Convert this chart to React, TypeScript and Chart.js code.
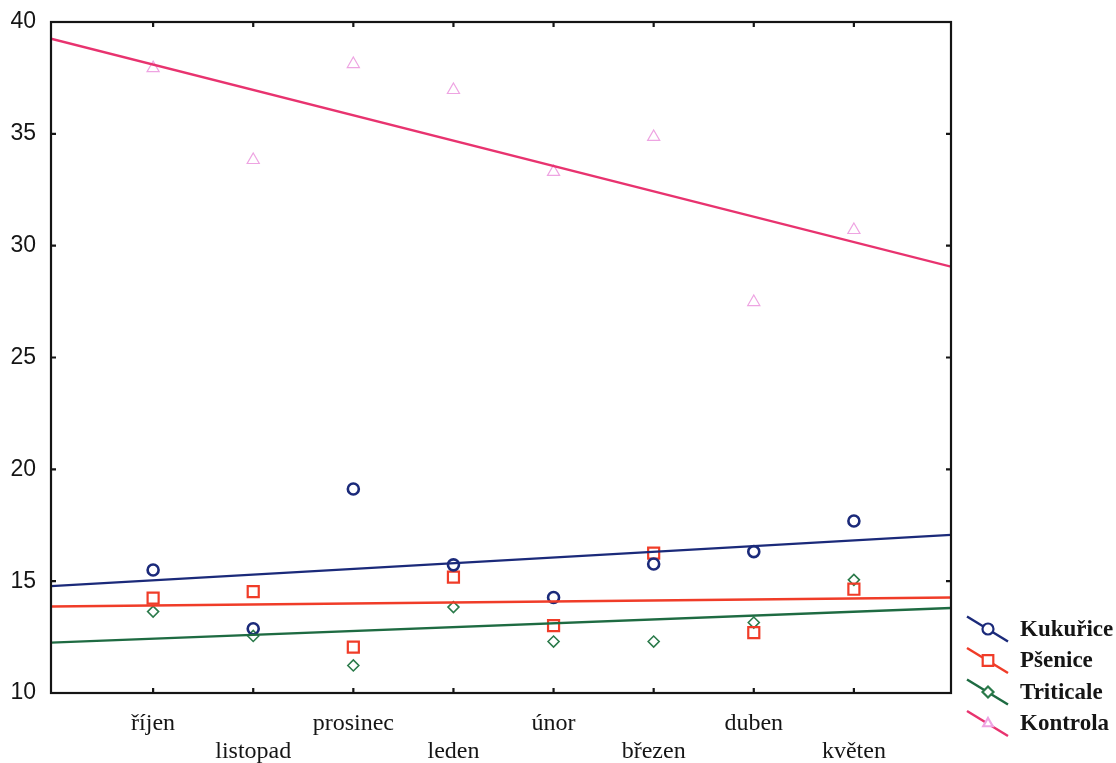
import React, { useEffect, useRef } from 'react';
import { Chart, registerables } from 'chart.js';

Chart.register(...registerables);

const months = ['říjen', 'listopad', 'prosinec', 'leden', 'únor', 'březen', 'duben', 'květen'];
const kukurice = [15.5, 12.87, 19.12, 15.73, 14.27, 15.77, 16.32, 17.69];
const psenice = [14.24, 14.53, 12.05, 15.18, 13.01, 16.25, 12.7, 14.64];
const triticale = [13.64, 12.55, 11.23, 13.84, 12.3, 12.3, 13.15, 15.06];
const kontrola = [37.94, 33.83, 38.12, 36.96, 33.3, 34.86, 27.48, 30.7];

// linear trend end values at the left and right edge of the plot
const kukuriceTrend = [14.78, 17.07];
const pseniceTrend = [13.87, 14.27];
const triticaleTrend = [12.25, 13.8];
const kontrolaTrend = [39.25, 29.06];

const xMin = -0.02;
const xMax = 8.97;
const yMin = 10;
const yMax = 40;
const yStep = 5;

const seriesNames = ['Kukuřice', 'Pšenice', 'Triticale', 'Kontrola'];
const lineColors = ['#1b2a7a', '#f03c28', '#1e6b42', '#e8336f'];
const markerColors = ['#1b2a7a', '#f03c28', '#2a7a4a', '#eea4e2'];
const markerStyles = ['circle', 'rect', 'rectRot', 'triangle'];
const markerRadius = [5.5, 7.8, 5.5, 7];
const markerWidth = [2.6, 2.2, 1.6, 1.2];

const toPoints = (vals: number[]) => vals.map((v, i) => ({ x: i + 1, y: v }));
const toTrend = (t: number[]) => [{ x: xMin, y: t[0] }, { x: xMax, y: t[1] }];

function drawMarker(ctx: CanvasRenderingContext2D, style: string, x: number, y: number, r: number) {
  ctx.beginPath();
  if (style === 'circle') {
    ctx.arc(x, y, r, 0, Math.PI * 2);
  } else if (style === 'rect') {
    const s = Math.SQRT1_2 * r;
    ctx.rect(x - s, y - s, 2 * s, 2 * s);
  } else if (style === 'rectRot') {
    ctx.moveTo(x - r, y);
    ctx.lineTo(x, y - r);
    ctx.lineTo(x + r, y);
    ctx.lineTo(x, y + r);
    ctx.closePath();
  } else {
    ctx.moveTo(x, y - r);
    ctx.lineTo(x + r * Math.sin(Math.PI / 3), y + r * 0.5);
    ctx.lineTo(x - r * Math.sin(Math.PI / 3), y + r * 0.5);
    ctx.closePath();
  }
  ctx.fillStyle = '#ffffff';
  ctx.fill();
  ctx.stroke();
}

const framePlugin = {
  id: 'frameAndLegend',
  afterDraw(chart: any) {
    const { ctx, chartArea: a, scales } = chart;
    ctx.save();
    ctx.strokeStyle = '#151515';
    ctx.lineWidth = 2.2;
    ctx.strokeRect(a.left, a.top, a.right - a.left, a.bottom - a.top);
    const tl = 5;
    ctx.beginPath();
    scales.x.ticks.forEach((t: any) => {
      const px = scales.x.getPixelForValue(t.value);
      ctx.moveTo(px, a.bottom);
      ctx.lineTo(px, a.bottom - tl);
      ctx.moveTo(px, a.top);
      ctx.lineTo(px, a.top + tl);
    });
    scales.y.ticks.forEach((t: any) => {
      const py = scales.y.getPixelForValue(t.value);
      ctx.moveTo(a.left, py);
      ctx.lineTo(a.left + tl, py);
      ctx.moveTo(a.right, py);
      ctx.lineTo(a.right - tl, py);
    });
    ctx.stroke();

    // legend
    const lx = a.right + 37;
    const ly0 = 629;
    const step = 31.5;
    seriesNames.forEach((name, i) => {
      const cy = ly0 + i * step;
      ctx.strokeStyle = lineColors[i];
      ctx.lineWidth = 2.5;
      ctx.beginPath();
      ctx.moveTo(lx - 21, cy - 12.5);
      ctx.lineTo(lx + 20, cy + 12.5);
      ctx.stroke();
      ctx.strokeStyle = markerColors[i];
      ctx.lineWidth = 2.2;
      drawMarker(ctx, markerStyles[i], lx, cy, i === 1 ? 7.5 : 5.5);
      ctx.fillStyle = '#151515';
      ctx.font = 'bold 23px "Liberation Serif", "Times New Roman", serif';
      ctx.textAlign = 'left';
      ctx.textBaseline = 'middle';
      ctx.fillText(name, lx + 32, cy + 1);
    });
    ctx.restore();
  },
};

export default function App() {
  const ref = useRef<HTMLCanvasElement | null>(null);

  useEffect(() => {
    if (!ref.current) return;
    const series = [kukurice, psenice, triticale, kontrola];
    const trends = [kukuriceTrend, pseniceTrend, triticaleTrend, kontrolaTrend];
    const datasets: any[] = [];
    trends.forEach((t, i) => {
      datasets.push({
        type: 'line',
        label: seriesNames[i] + ' trend',
        data: toTrend(t),
        borderColor: lineColors[i],
        borderWidth: 2.4,
        pointRadius: 0,
        showLine: true,
        fill: false,
      });
    });
    series.forEach((s, i) => {
      datasets.push({
        type: 'scatter',
        label: seriesNames[i],
        data: toPoints(s),
        borderColor: markerColors[i],
        backgroundColor: 'rgba(255,255,255,0)',
        pointStyle: markerStyles[i],
        pointRadius: markerRadius[i],
        pointBorderWidth: markerWidth[i],
        showLine: false,
      });
    });

    const chart = new Chart(ref.current, {
      type: 'scatter',
      data: { datasets },
      options: {
        animation: false,
        responsive: false,
        layout: { padding: { top: 22, right: 165, left: 0, bottom: 0 } },
        plugins: { legend: { display: false }, tooltip: { enabled: false } },
        scales: {
          x: {
            type: 'linear',
            min: xMin,
            max: xMax,
            grid: { display: false, drawTicks: false },
            border: { display: false },
            afterBuildTicks: (scale: any) => {
              scale.ticks = months.map((_, i) => ({ value: i + 1 }));
            },
            afterFit: (scale: any) => {
              scale.height = 70;
              scale.paddingLeft = 0;
              scale.paddingRight = 0;
            },
            ticks: {
              autoSkip: false,
              maxRotation: 0,
              minRotation: 0,
              padding: 16,
              color: '#151515',
              font: { family: '"Liberation Serif", "Times New Roman", serif', size: 24, lineHeight: 1.2 },
              callback: (value: any) => {
                const i = Math.round(Number(value)) - 1;
                if (i < 0 || i >= months.length) return '';
                return i % 2 === 0 ? months[i] : ['', months[i]];
              },
            },
          },
          y: {
            type: 'linear',
            min: yMin,
            max: yMax,
            grid: { display: false, drawTicks: false },
            border: { display: false },
            afterFit: (scale: any) => {
              scale.width = 51;
              scale.paddingTop = 0;
              scale.paddingBottom = 0;
            },
            ticks: {
              stepSize: yStep,
              padding: 15,
              color: '#151515',
              font: { family: '"Liberation Sans", Arial, sans-serif', size: 23 },
            },
          },
        },
      },
      plugins: [framePlugin],
    } as any);
    return () => chart.destroy();
  }, []);

  return (
    <div style={{ position: 'absolute', left: 0, top: 0, width: 1116, height: 763, background: '#fff' }}>
      <canvas ref={ref} width={1116} height={763} style={{ display: 'block' }} />
    </div>
  );
}
